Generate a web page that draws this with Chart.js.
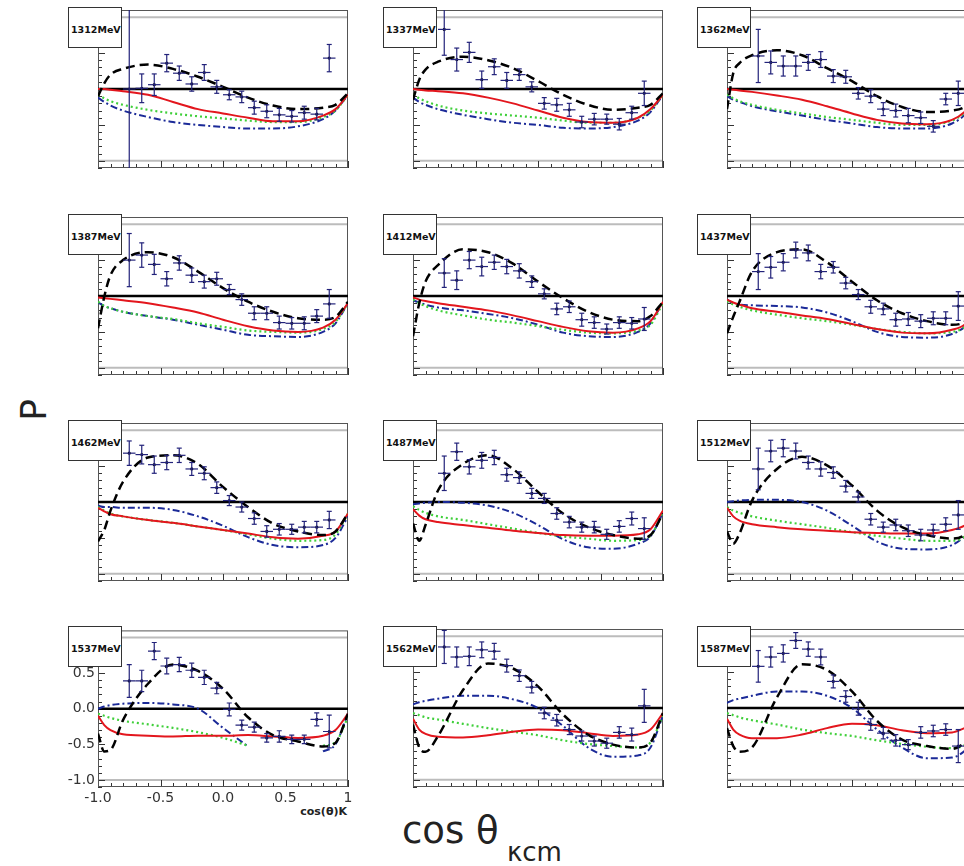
<!DOCTYPE html>
<html>
<head>
<meta charset="utf-8">
<script src="https://cdn.jsdelivr.net/npm/chart.js@4.4.1/dist/chart.umd.min.js"></script>
<style>
html, body { margin: 0; padding: 0; background: #fff; }
body { width: 964px; height: 866px; position: relative; overflow: hidden; font-family: "DejaVu Sans", sans-serif; }
canvas.panel { position: absolute; }
.tag { position: absolute; width: 54px; height: 41px; box-sizing: border-box; border: 1px solid #333; background: #fff;
       font-weight: bold; font-size: 9.5px; line-height: 12px; padding: 16px 0 0 2px; color: #111; z-index: 2; white-space: nowrap; }
#xsmall { position: absolute; right: 617px; top: 805px; font-weight: bold; font-size: 11px; color: #222; }
#ptitle { position: absolute; left: 22px; top: 392px; width: 24px; text-align: center; font-size: 36px; line-height: 36px; color: #222; transform: rotate(-90deg); }
#xtitle { position: absolute; left: 402px; top: 812px; font-size: 37px; line-height: 38px; color: #222; white-space: nowrap; }
#xsub { position: absolute; left: 507px; top: 839px; font-size: 26px; line-height: 26px; color: #222; }
</style>
</head>
<body>
<div id="ptitle">P</div>
<div id="xtitle">cos θ</div>
<div id="xsub">κcm</div>
<div id="xsmall">cos(θ)K</div>
<script>
// beam energies, one panel each
var energies = [1312, 1337, 1362, 1387, 1412, 1437, 1462, 1487, 1512, 1537, 1562, 1587];

// data bins (cos theta centres), half width 0.05
var binX = [-0.75, -0.65, -0.55, -0.45, -0.35, -0.25, -0.15, -0.05, 0.05, 0.15, 0.25, 0.35, 0.45, 0.55, 0.65, 0.75, 0.85];
var binHalf = 0.05;

var pointY = [
  [0.0, 0.01, 0.06, 0.36, 0.22, 0.07, 0.23, 0.03, -0.08, -0.11, -0.26, -0.31, -0.36, -0.38, -0.33, -0.35, 0.43],
  [0.83, 0.41, 0.51, 0.13, 0.31, 0.12, 0.2, 0.03, -0.2, -0.22, -0.29, -0.46, -0.42, -0.42, -0.49, -0.33, -0.06],
  [0.46, 0.37, 0.32, 0.32, 0.37, 0.41, 0.18, 0.17, -0.06, -0.1, -0.28, -0.3, -0.37, -0.4, -0.52, -0.14, -0.06],
  [0.5, 0.57, 0.44, 0.24, 0.46, 0.29, 0.2, 0.24, 0.09, -0.05, -0.24, -0.24, -0.37, -0.38, -0.38, -0.28, -0.11],
  [0.32, 0.22, 0.5, 0.41, 0.47, 0.41, 0.35, 0.2, 0.03, -0.18, -0.15, -0.33, -0.37, -0.46, -0.37, -0.38, -0.32],
  [0.34, 0.4, 0.47, 0.64, 0.6, 0.34, 0.4, 0.18, 0.02, -0.15, -0.18, -0.33, -0.32, -0.35, -0.31, -0.31, -0.14],
  [0.68, 0.66, 0.52, 0.55, 0.65, 0.46, 0.4, 0.2, 0.02, -0.07, -0.23, -0.41, -0.38, -0.38, -0.35, -0.35, -0.25],
  [0.4, 0.7, 0.49, 0.58, 0.62, 0.38, 0.34, 0.12, 0.05, -0.16, -0.28, -0.35, -0.35, -0.45, -0.34, -0.23, -0.37],
  [0.46, 0.71, 0.75, 0.71, 0.55, 0.46, 0.41, 0.22, 0.07, -0.24, -0.35, -0.32, -0.4, -0.46, -0.39, -0.31, -0.18],
  [0.39, 0.39, 0.81, 0.6, 0.62, 0.54, 0.44, 0.29, -0.01, -0.23, -0.26, -0.41, -0.39, -0.43, -0.43, -0.15, -0.32],
  [0.85, 0.71, 0.72, 0.81, 0.79, 0.59, 0.45, 0.29, -0.07, -0.17, -0.3, -0.39, -0.46, -0.49, -0.34, -0.37, 0.03],
  [0.58, 0.71, 0.76, 0.94, 0.82, 0.71, 0.37, 0.16, -0.01, -0.23, -0.35, -0.45, -0.51, -0.34, -0.32, -0.3, -0.53]
];

var pointErr = [
  [1.6, 0.2, 0.15, 0.12, 0.1, 0.1, 0.11, 0.09, 0.07, 0.08, 0.09, 0.09, 0.09, 0.08, 0.09, 0.08, 0.19],
  [0.36, 0.16, 0.14, 0.12, 0.11, 0.11, 0.08, 0.07, 0.08, 0.09, 0.09, 0.08, 0.08, 0.07, 0.08, 0.09, 0.17],
  [0.37, 0.16, 0.14, 0.14, 0.11, 0.11, 0.09, 0.09, 0.08, 0.09, 0.09, 0.09, 0.1, 0.08, 0.08, 0.08, 0.17],
  [0.37, 0.17, 0.14, 0.1, 0.1, 0.1, 0.09, 0.09, 0.07, 0.08, 0.09, 0.09, 0.09, 0.08, 0.09, 0.09, 0.2],
  [0.2, 0.13, 0.12, 0.13, 0.1, 0.1, 0.1, 0.08, 0.07, 0.08, 0.08, 0.09, 0.08, 0.07, 0.08, 0.08, 0.16],
  [0.25, 0.15, 0.12, 0.11, 0.11, 0.1, 0.08, 0.08, 0.07, 0.09, 0.08, 0.09, 0.09, 0.09, 0.09, 0.09, 0.2],
  [0.17, 0.13, 0.12, 0.1, 0.1, 0.09, 0.09, 0.08, 0.07, 0.07, 0.08, 0.08, 0.08, 0.07, 0.08, 0.08, 0.12],
  [0.24, 0.12, 0.1, 0.11, 0.1, 0.09, 0.08, 0.07, 0.07, 0.08, 0.08, 0.07, 0.08, 0.07, 0.08, 0.09, 0.15],
  [0.29, 0.15, 0.12, 0.11, 0.09, 0.1, 0.08, 0.08, 0.07, 0.08, 0.07, 0.08, 0.08, 0.08, 0.08, 0.09, 0.2],
  [0.23, 0.15, 0.12, 0.11, 0.1, 0.1, 0.1, 0.08, 0.09, 0.07, 0.07, 0.06, 0.08, 0.06, 0.06, 0.09, 0.23],
  [0.23, 0.14, 0.13, 0.11, 0.11, 0.09, 0.08, 0.08, 0.08, 0.08, 0.07, 0.07, 0.07, 0.07, 0.08, 0.09, 0.23],
  [0.22, 0.14, 0.12, 0.11, 0.1, 0.11, 0.09, 0.08, 0.09, 0.08, 0.08, 0.08, 0.07, 0.08, 0.08, 0.08, 0.23]
];

// model curves, sampled at curveX
var curveX = [-1, -0.95, -0.9, -0.8, -0.6, -0.4, -0.2, 0, 0.2, 0.4, 0.6, 0.8, 0.9, 1];

var fitBlack = [
  [-0.1, 0.08, 0.2, 0.28, 0.34, 0.28, 0.17, 0.03, -0.12, -0.23, -0.28, -0.26, -0.22, -0.06],
  [-0.15, 0.13, 0.27, 0.38, 0.45, 0.4, 0.29, 0.11, -0.08, -0.22, -0.29, -0.26, -0.22, -0.06],
  [-0.28, 0.22, 0.36, 0.47, 0.54, 0.47, 0.29, 0.11, -0.1, -0.25, -0.32, -0.3, -0.25, -0.08],
  [-0.45, -0.01, 0.29, 0.5, 0.61, 0.54, 0.34, 0.11, -0.08, -0.22, -0.31, -0.33, -0.29, -0.08],
  [-0.56, -0.1, 0.2, 0.43, 0.65, 0.61, 0.45, 0.2, -0.03, -0.22, -0.33, -0.35, -0.28, -0.08],
  [-0.52, -0.29, -0.08, 0.34, 0.61, 0.65, 0.47, 0.2, -0.06, -0.24, -0.35, -0.4, -0.36, -0.15],
  [-0.55, -0.39, -0.12, 0.28, 0.62, 0.65, 0.53, 0.21, -0.07, -0.3, -0.41, -0.46, -0.41, -0.16],
  [-0.3, -0.54, -0.32, 0.16, 0.53, 0.65, 0.46, 0.14, -0.16, -0.35, -0.46, -0.51, -0.46, -0.16],
  [-0.41, -0.58, -0.44, 0.02, 0.46, 0.63, 0.51, 0.23, -0.12, -0.35, -0.46, -0.51, -0.46, -0.25],
  [-0.35, -0.6, -0.58, -0.16, 0.35, 0.62, 0.53, 0.28, -0.12, -0.37, -0.46, -0.53, -0.48, -0.07],
  [-0.23, -0.55, -0.61, -0.39, 0.25, 0.62, 0.55, 0.3, -0.09, -0.37, -0.51, -0.55, -0.48, -0.07],
  [-0.28, -0.53, -0.61, -0.55, 0.15, 0.61, 0.53, 0.23, -0.18, -0.44, -0.53, -0.57, -0.48, -0.25]
];

var fitRed = [
  [0, 0, -0.01, -0.03, -0.08, -0.18, -0.28, -0.34, -0.4, -0.45, -0.45, -0.37, -0.28, -0.08],
  [0, -0.01, -0.02, -0.03, -0.06, -0.12, -0.2, -0.3, -0.4, -0.46, -0.47, -0.4, -0.28, -0.08],
  [0, -0.01, -0.02, -0.04, -0.09, -0.15, -0.24, -0.34, -0.43, -0.48, -0.49, -0.43, -0.32, -0.1],
  [-0.02, -0.03, -0.04, -0.06, -0.1, -0.16, -0.23, -0.33, -0.42, -0.48, -0.5, -0.44, -0.33, -0.1],
  [-0.02, -0.05, -0.07, -0.1, -0.15, -0.2, -0.27, -0.35, -0.43, -0.49, -0.51, -0.45, -0.35, -0.08],
  [-0.05, -0.09, -0.12, -0.17, -0.22, -0.27, -0.32, -0.39, -0.46, -0.51, -0.52, -0.47, -0.4, -0.2],
  [-0.08, -0.13, -0.17, -0.2, -0.25, -0.29, -0.34, -0.39, -0.44, -0.49, -0.51, -0.47, -0.41, -0.16],
  [-0.1, -0.19, -0.24, -0.28, -0.32, -0.36, -0.4, -0.43, -0.46, -0.47, -0.47, -0.45, -0.38, -0.12],
  [-0.08, -0.2, -0.26, -0.31, -0.35, -0.38, -0.4, -0.42, -0.43, -0.44, -0.44, -0.39, -0.33, -0.2],
  [-0.1, -0.23, -0.3, -0.36, -0.38, -0.39, -0.38, -0.38, -0.37, -0.39, -0.41, -0.38, -0.3, -0.07],
  [-0.15, -0.3, -0.36, -0.4, -0.41, -0.38, -0.33, -0.3, -0.31, -0.35, -0.39, -0.37, -0.3, -0.07],
  [-0.15, -0.3, -0.37, -0.42, -0.42, -0.37, -0.28, -0.22, -0.24, -0.31, -0.35, -0.34, -0.28, -0.2]
];

var fitGreen = [
  [-0.08, -0.13, -0.17, -0.22, -0.29, -0.34, -0.38, -0.41, -0.44, -0.46, -0.46, -0.39, -0.3, -0.08],
  [-0.08, -0.13, -0.17, -0.23, -0.3, -0.34, -0.37, -0.4, -0.44, -0.47, -0.47, -0.4, -0.3, -0.08],
  [-0.08, -0.13, -0.17, -0.22, -0.29, -0.34, -0.39, -0.43, -0.47, -0.5, -0.5, -0.44, -0.33, -0.1],
  [-0.08, -0.14, -0.17, -0.22, -0.28, -0.32, -0.38, -0.43, -0.48, -0.5, -0.51, -0.46, -0.36, -0.1],
  [-0.05, -0.1, -0.14, -0.2, -0.27, -0.33, -0.37, -0.42, -0.47, -0.51, -0.52, -0.48, -0.4, -0.1],
  [-0.07, -0.12, -0.15, -0.2, -0.26, -0.31, -0.35, -0.4, -0.46, -0.5, -0.52, -0.5, -0.43, -0.2],
  [-0.07, -0.12, -0.16, -0.2, -0.25, -0.29, -0.34, -0.39, -0.45, -0.51, -0.54, -0.53, -0.45, -0.16],
  [-0.06, -0.11, -0.15, -0.2, -0.25, -0.31, -0.37, -0.43, -0.48, -0.51, -0.54, -0.53, -0.47, -0.14],
  [-0.07, -0.12, -0.15, -0.2, -0.26, -0.31, -0.36, -0.42, -0.47, -0.51, -0.54, -0.54, -0.48, -0.25],
  [-0.07, -0.1, -0.13, -0.17, -0.22, -0.27, -0.33, -0.41, -0.52, null, null, -0.52, -0.47, -0.12],
  [-0.07, -0.1, -0.13, -0.16, -0.22, -0.28, -0.33, -0.38, -0.45, -0.5, -0.53, -0.55, -0.48, -0.1],
  [-0.07, -0.1, -0.13, -0.17, -0.23, -0.3, -0.35, -0.39, -0.45, -0.5, -0.54, -0.56, -0.52, -0.4]
];

var fitBlue = [
  [-0.12, -0.18, -0.23, -0.3, -0.39, -0.46, -0.5, -0.53, -0.55, -0.55, -0.52, -0.42, -0.3, -0.08],
  [-0.12, -0.18, -0.22, -0.28, -0.36, -0.42, -0.47, -0.5, -0.54, -0.55, -0.53, -0.44, -0.32, -0.08],
  [-0.1, -0.15, -0.18, -0.24, -0.31, -0.37, -0.43, -0.48, -0.53, -0.55, -0.55, -0.48, -0.36, -0.1],
  [-0.09, -0.14, -0.17, -0.22, -0.28, -0.33, -0.4, -0.47, -0.54, -0.56, -0.57, -0.5, -0.38, -0.1],
  [-0.06, -0.09, -0.12, -0.16, -0.2, -0.25, -0.31, -0.4, -0.51, -0.56, -0.57, -0.5, -0.38, -0.08],
  [-0.05, -0.1, -0.12, -0.13, -0.14, -0.16, -0.23, -0.35, -0.5, -0.57, -0.58, -0.53, -0.43, -0.22],
  [-0.05, -0.07, -0.07, -0.08, -0.08, -0.11, -0.2, -0.33, -0.49, -0.6, -0.63, -0.6, -0.5, -0.2],
  [-0.03, -0.02, -0.01, 0, -0.01, -0.05, -0.15, -0.32, -0.52, -0.63, -0.65, -0.58, -0.48, -0.15],
  [0, 0.01, 0.02, 0.03, 0.03, 0, -0.12, -0.33, -0.55, -0.65, -0.66, -0.6, -0.48, -0.3],
  [0, 0.03, 0.05, 0.07, 0.08, 0.06, 0, -0.27, -0.53, null, null, -0.6, -0.5, -0.07],
  [0.05, 0.08, 0.1, 0.13, 0.17, 0.17, 0.12, 0, -0.25, -0.55, -0.68, -0.66, -0.55, -0.1],
  [0.07, 0.11, 0.13, 0.17, 0.23, 0.23, 0.17, 0, -0.3, -0.55, -0.7, -0.69, -0.6, -0.4]
];

// tick labels, only the bottom-left panel shows them
var xTickVals = [-1, -0.5, 0, 0.5, 1];
var yTickVals = [-1, -0.5, 0, 0.5];

// panel grid
var colLeft = [98, 413, 727];
var rowTop = [10, 217, 423, 629];
var plotW = 250, plotH = 158;
var padL = 60, padT = 10, padR = 10, padB = 40;

Chart.defaults.font.family = '"DejaVu Sans", sans-serif';

function pairs(xs, ys) {
  return xs.map(function(x, i) { return {x: x, y: ys[i]}; });
}

function line(ctx, x1, y1, x2, y2) {
  ctx.beginPath();
  ctx.moveTo(x1, y1);
  ctx.lineTo(x2, y2);
  ctx.stroke();
}

// frame, +-1 guides, zero line and inside ticks
var framePlugin = {
  id: 'frame',
  beforeDatasetsDraw: function(chart) {
    var a = chart.chartArea, ctx = chart.ctx;
    var xs = chart.scales.x, ys = chart.scales.y;
    ctx.save();
    ctx.strokeStyle = '#bcbcbc';
    ctx.lineWidth = 2;
    [1, -1].forEach(function(v) {
      var py = ys.getPixelForValue(v);
      line(ctx, a.left, py, a.right, py);
    });
    ctx.strokeStyle = '#333';
    ctx.lineWidth = 1;
    for (var i = -10; i <= 10; i++) {
      var px = Math.round(xs.getPixelForValue(i / 10)) + 0.5;
      line(ctx, px, a.bottom, px, a.bottom - (i % 5 === 0 ? 7 : 4));
    }
    for (var j = -11; j <= 11; j++) {
      var py = Math.round(ys.getPixelForValue(j / 10)) + 0.5;
      line(ctx, a.left, py, a.left + (j % 5 === 0 ? 7 : 4), py);
    }
    ctx.strokeStyle = '#555';
    ctx.strokeRect(a.left + 0.5, a.top + 0.5, a.width - 1, a.height - 1);
    ctx.strokeStyle = '#000';
    ctx.lineWidth = 2.5;
    var zy = ys.getPixelForValue(0);
    line(ctx, a.left, zy, a.right, zy);
    ctx.restore();
  }
};

function errorBars(k) {
  return {
    id: 'errbars' + k,
    afterDatasetsDraw: function(chart) {
      var a = chart.chartArea, ctx = chart.ctx;
      var xs = chart.scales.x, ys = chart.scales.y;
      ctx.save();
      ctx.beginPath();
      ctx.rect(a.left, a.top, a.width, a.height);
      ctx.clip();
      ctx.strokeStyle = '#22227a';
      ctx.lineWidth = 1.2;
      binX.forEach(function(bx, i) {
        var v = pointY[k][i], e = pointErr[k][i];
        var px = xs.getPixelForValue(bx), py = ys.getPixelForValue(v);
        var top = ys.getPixelForValue(v + e), bot = ys.getPixelForValue(v - e);
        line(ctx, px, top, px, bot);
        line(ctx, px - 2.5, top, px + 2.5, top);
        line(ctx, px - 2.5, bot, px + 2.5, bot);
        line(ctx, xs.getPixelForValue(bx - binHalf), py, xs.getPixelForValue(bx + binHalf), py);
      });
      ctx.restore();
    }
  };
}

energies.forEach(function(en, k) {
  var row = Math.floor(k / 3), col = k % 3;
  var labeled = (k === 9);

  var cv = document.createElement('canvas');
  cv.className = 'panel';
  cv.width = padL + plotW + padR;
  cv.height = padT + plotH + padB;
  cv.style.left = (colLeft[col] - padL) + 'px';
  cv.style.top = (rowTop[row] - padT) + 'px';
  document.body.appendChild(cv);

  var tag = document.createElement('div');
  tag.className = 'tag';
  tag.textContent = en + 'MeV';
  tag.style.left = (colLeft[col] - 30) + 'px';
  tag.style.top = (rowTop[row] - 3) + 'px';
  document.body.appendChild(tag);

  new Chart(cv.getContext('2d'), {
    type: 'line',
    data: {
      datasets: [
        { data: pairs(binX, pointY[k]), showLine: false, pointRadius: 1.6, pointBackgroundColor: '#000', pointBorderWidth: 0 },
        { data: pairs(curveX, fitBlack[k]), borderColor: '#000', borderWidth: 2.5, borderDash: [9, 5], pointRadius: 0, cubicInterpolationMode: 'monotone' },
        { data: pairs(curveX, fitRed[k]), borderColor: '#e3161d', borderWidth: 2, pointRadius: 0, cubicInterpolationMode: 'monotone' },
        { data: pairs(curveX, fitGreen[k]), borderColor: '#3fcf3a', borderWidth: 2.2, borderDash: [2, 3], pointRadius: 0, cubicInterpolationMode: 'monotone' },
        { data: pairs(curveX, fitBlue[k]), borderColor: '#1b2a98', borderWidth: 2, borderDash: [7, 3, 2, 3], pointRadius: 0, cubicInterpolationMode: 'monotone' }
      ]
    },
    options: {
      responsive: false,
      animation: false,
      devicePixelRatio: 1,
      spanGaps: false,
      layout: { padding: { top: padT, right: padR, left: 0, bottom: 0 } },
      plugins: { legend: { display: false }, tooltip: { enabled: false } },
      scales: {
        x: {
          type: 'linear', min: -1, max: 1,
          grid: { display: false, drawTicks: false }, border: { display: false },
          afterBuildTicks: function(s) { s.ticks = xTickVals.map(function(v) { return {value: v}; }); },
          afterFit: function(s) { s.height = padB; },
          ticks: {
            display: labeled, autoSkip: false, maxRotation: 0, padding: 3,
            color: '#333', font: { size: 14 },
            callback: function(v) { return v === 1 ? '1' : v.toFixed(1); }
          }
        },
        y: {
          type: 'linear', min: -1.1, max: 1.1,
          grid: { display: false, drawTicks: false }, border: { display: false },
          afterBuildTicks: function(s) { s.ticks = yTickVals.map(function(v) { return {value: v}; }); },
          afterFit: function(s) { s.width = padL; },
          ticks: {
            display: labeled, padding: 3, color: '#333', font: { size: 14 },
            callback: function(v) { return v.toFixed(1); }
          }
        }
      }
    },
    plugins: [framePlugin, errorBars(k)]
  });
});
</script>
</body>
</html>
